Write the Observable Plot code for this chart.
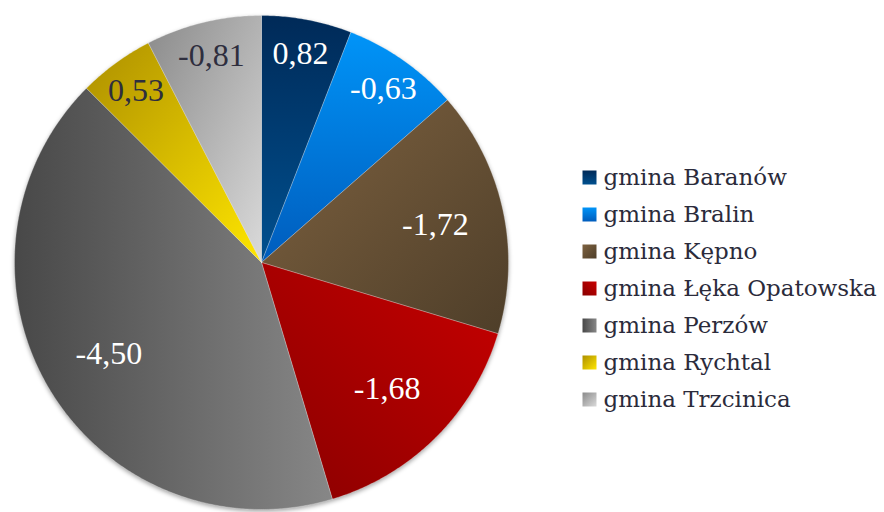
<!DOCTYPE html>
<html><head><meta charset="utf-8">
<script src="https://cdn.jsdelivr.net/npm/d3@7"></script>
<script src="https://cdn.jsdelivr.net/npm/@observablehq/plot@0.6"></script>
<style>
html,body{margin:0;padding:0;background:#fff;}
#chart{position:relative;width:884px;height:512px;overflow:hidden;}
#chart svg.pie{position:absolute;left:0;top:0;}
#chart svg.legend{position:absolute;left:575px;top:150px;}
svg.pie g[aria-label="line"]{filter:drop-shadow(0 2px 2px rgba(0,0,0,0.35));}
</style>
</head><body>
<svg width="0" height="0" style="position:absolute">
<defs>
  <linearGradient id="g0" x1="0" y1="0" x2="0" y2="1"><stop offset="0" stop-color="#002a58"/><stop offset="1" stop-color="#00508f"/></linearGradient>
  <linearGradient id="g1" x1="0" y1="0" x2="0" y2="1"><stop offset="0" stop-color="#0094f8"/><stop offset="1" stop-color="#005cbc"/></linearGradient>
  <linearGradient id="g2" x1="0" y1="0" x2="1" y2="1"><stop offset="0" stop-color="#7e6240"/><stop offset="1" stop-color="#4e3e29"/></linearGradient>
  <linearGradient id="g3" x1="1" y1="0" x2="0" y2="1"><stop offset="0" stop-color="#c80000"/><stop offset="1" stop-color="#880000"/></linearGradient>
  <linearGradient id="g4" x1="0" y1="0" x2="1" y2="0"><stop offset="0" stop-color="#484848"/><stop offset="1" stop-color="#878787"/></linearGradient>
  <linearGradient id="g5" x1="0" y1="0" x2="1" y2="1"><stop offset="0" stop-color="#ad8f00"/><stop offset="1" stop-color="#ffe600"/></linearGradient>
  <linearGradient id="g6" x1="0" y1="0" x2="1" y2="1"><stop offset="0" stop-color="#8a8a8a"/><stop offset="1" stop-color="#dadada"/></linearGradient>
</defs>
</svg>
<div id="chart"></div>
<script>
// Categories (clockwise from 12 o'clock)
const names = ["gmina Baranów", "gmina Bralin", "gmina Kępno", "gmina Łęka Opatowska", "gmina Perzów", "gmina Rychtal", "gmina Trzcinica"];
// Data labels shown on the slices
const values = [0.82, -0.63, -1.72, -1.68, -4.50, 0.53, -0.81];
// Slice sizes
const sliceShare = [0.63, 0.82, 1.72, 1.68, 4.50, 0.53, 0.81];
// Slices on a light background get dark label text
const darkLabelSlices = ["gmina Rychtal", "gmina Trzcinica"];

const sliceFills = names.map((_, i) => `url(#g${i})`);
const fmt = d3.formatLocale({decimal: ",", thousands: " ", grouping: [3], currency: ["", ""], minus: "-"}).format(".2f");

const rows = names.map((name, i) => ({name, value: values[i], share: sliceShare[i]}));
const arcs = d3.pie().sort(null).value(d => d.share)(rows);

const pts = [];
const labelRows = [];
for (const a of arcs) {
  const a0 = a.startAngle, a1 = a.endAngle;
  const n = Math.max(2, Math.ceil((a1 - a0) / (Math.PI / 360)));
  pts.push({name: a.data.name, x: 0, y: 0});
  for (let k = 0; k <= n; k++) {
    const t = a0 + (a1 - a0) * k / n;
    pts.push({name: a.data.name, x: Math.sin(t), y: Math.cos(t)});
  }
  pts.push({name: a.data.name, x: 0, y: 0});
  const mid = (a0 + a1) / 2;
  const rf = (a1 - a0) < Math.PI / 6 ? 0.86 : 0.72;
  labelRows.push({name: a.data.name, text: fmt(a.data.value), x: rf * Math.sin(mid), y: rf * Math.cos(mid)});
}

const labelFont = {fontFamily: "Liberation Serif", fontSize: 32};
const pie = Plot.plot({
  width: 884, height: 512, margin: 0,
  x: {domain: [-1, 1], range: [14, 508], axis: null},
  y: {domain: [-1, 1], range: [509, 15], axis: null},
  color: {domain: names, range: sliceFills},
  marks: [
    Plot.line(pts, {x: "x", y: "y", z: "name", fill: "name", stroke: "white", strokeOpacity: 0.35, strokeWidth: 0.75, strokeLinejoin: "round", curve: "linear"}),
    Plot.text(labelRows.filter(d => !darkLabelSlices.includes(d.name)), {x: "x", y: "y", text: "text", fill: "white", ...labelFont}),
    Plot.text(labelRows.filter(d => darkLabelSlices.includes(d.name)), {x: "x", y: "y", text: "text", fill: "#2e2e3e", ...labelFont})
  ]
});
pie.classList.add("pie");

const legend = Plot.plot({
  width: 309, height: 290, margin: 0,
  x: {domain: [0, 1], range: [14, 28], axis: null},
  y: {type: "point", domain: names, range: [27, 249], padding: 0, axis: null},
  color: {domain: names, range: sliceFills},
  marks: [
    Plot.dot(names, {x: () => 0, y: d => d, fill: d => d, symbol: "square", r: 7.9, stroke: null}),
    Plot.text(names, {x: () => 1, y: d => d, text: d => d, textAnchor: "start", fill: "#2b2b3b", fontFamily: "DejaVu Serif", fontSize: 23})
  ]
});
legend.classList.add("legend");

const chart = document.getElementById("chart");
chart.appendChild(pie);
chart.appendChild(legend);
</script>
</body></html>
